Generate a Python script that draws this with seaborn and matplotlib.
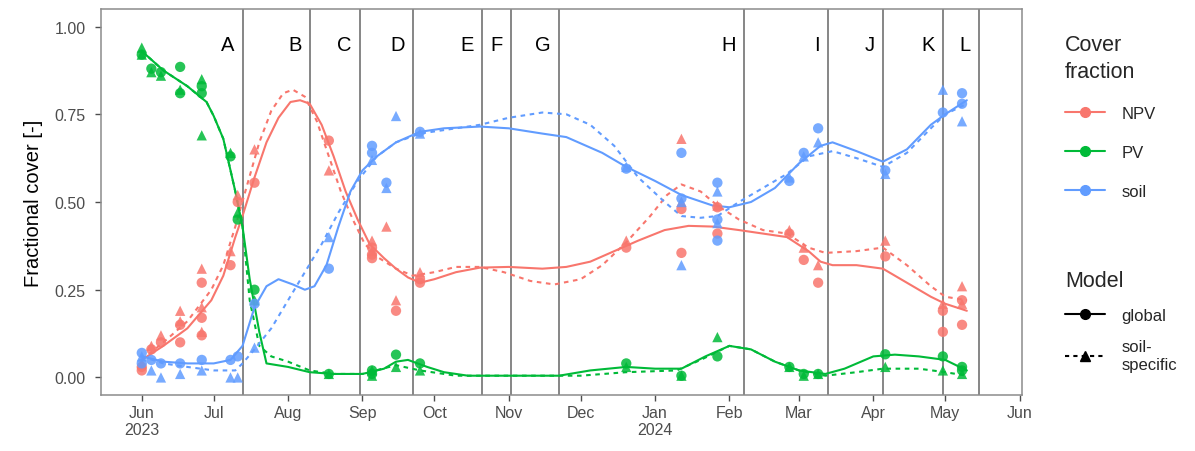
import numpy as np
import pandas as pd
import matplotlib
matplotlib.use("Agg")
import matplotlib.pyplot as plt
from matplotlib.lines import Line2D
import seaborn as sns

# ---------------- data ----------------
classes = ["NPV", "PV", "soil"]
models = ["global", "soil-specific"]
colors = {"NPV": "#F8766D", "PV": "#00BA38", "soil": "#619CFF"}

# observations (date, value) per class and model
npv_glob_dates = ["2023-06-01", "2023-06-01", "2023-06-05", "2023-06-09", "2023-06-17", "2023-06-17",
                  "2023-06-26", "2023-06-26", "2023-06-26", "2023-07-08", "2023-07-11", "2023-07-18",
                  "2023-08-18", "2023-09-05", "2023-09-05", "2023-09-05", "2023-09-15", "2023-09-25",
                  "2023-09-25", "2023-12-20", "2024-01-12", "2024-01-12", "2024-01-27", "2024-01-27",
                  "2024-02-26", "2024-03-03", "2024-03-09", "2024-04-06", "2024-04-30", "2024-04-30",
                  "2024-05-08", "2024-05-08"]
npv_glob_vals = [0.02, 0.03, 0.08, 0.10, 0.10, 0.15, 0.12, 0.27, 0.17, 0.32, 0.50, 0.555,
                 0.675, 0.35, 0.37, 0.34, 0.19, 0.27, 0.28, 0.37, 0.48, 0.355, 0.41, 0.485,
                 0.41, 0.335, 0.27, 0.345, 0.19, 0.13, 0.15, 0.22]
npv_soil_dates = ["2023-06-01", "2023-06-05", "2023-06-09", "2023-06-17", "2023-06-17", "2023-06-26",
                  "2023-06-26", "2023-06-26", "2023-07-08", "2023-07-11", "2023-07-18", "2023-08-18",
                  "2023-09-05", "2023-09-05", "2023-09-11", "2023-09-15", "2023-09-25", "2023-12-20",
                  "2024-01-12", "2024-01-12", "2024-01-27", "2024-02-26", "2024-03-03", "2024-03-09",
                  "2024-04-06", "2024-04-30", "2024-05-08", "2024-05-08"]
npv_soil_vals = [0.04, 0.09, 0.12, 0.19, 0.16, 0.31, 0.20, 0.13, 0.36, 0.52, 0.65, 0.59,
                 0.36, 0.39, 0.43, 0.22, 0.30, 0.39, 0.68, 0.50, 0.49, 0.42, 0.37, 0.32,
                 0.39, 0.21, 0.26, 0.21]

pv_glob_dates = ["2023-06-01", "2023-06-05", "2023-06-09", "2023-06-17", "2023-06-17", "2023-06-26",
                 "2023-06-26", "2023-07-08", "2023-07-11", "2023-07-18", "2023-08-18", "2023-09-05",
                 "2023-09-05", "2023-09-15", "2023-09-25", "2023-12-20", "2024-01-12", "2024-01-27",
                 "2024-02-26", "2024-03-03", "2024-03-09", "2024-04-06", "2024-04-30", "2024-05-08",
                 "2024-05-08"]
pv_glob_vals = [0.92, 0.88, 0.87, 0.885, 0.81, 0.81, 0.83, 0.63, 0.45, 0.25, 0.01, 0.01,
                0.02, 0.065, 0.04, 0.04, 0.005, 0.06, 0.03, 0.01, 0.01, 0.066, 0.06, 0.02, 0.03]
pv_soil_dates = ["2023-06-01", "2023-06-01", "2023-06-05", "2023-06-09", "2023-06-17", "2023-06-26",
                 "2023-06-26", "2023-07-08", "2023-07-11", "2023-07-18", "2023-08-18", "2023-09-05",
                 "2023-09-05", "2023-09-15", "2023-09-25", "2023-12-20", "2024-01-12", "2024-01-27",
                 "2024-02-26", "2024-03-03", "2024-03-09", "2024-04-06", "2024-04-30", "2024-05-08"]
pv_soil_vals = [0.94, 0.92, 0.87, 0.86, 0.82, 0.85, 0.69, 0.64, 0.47, 0.22, 0.01, 0.005,
                0.02, 0.03, 0.02, 0.03, 0.005, 0.115, 0.03, 0.005, 0.01, 0.03, 0.02, 0.01]

soil_glob_dates = ["2023-06-01", "2023-06-01", "2023-06-05", "2023-06-09", "2023-06-17", "2023-06-26",
                   "2023-07-08", "2023-07-11", "2023-07-18", "2023-08-18", "2023-09-05", "2023-09-05",
                   "2023-09-11", "2023-09-25", "2023-12-20", "2024-01-12", "2024-01-12", "2024-01-27",
                   "2024-01-27", "2024-01-27", "2024-02-26", "2024-03-03", "2024-03-09", "2024-04-06",
                   "2024-04-30", "2024-05-08", "2024-05-08"]
soil_glob_vals = [0.07, 0.04, 0.05, 0.04, 0.04, 0.05, 0.05, 0.06, 0.21, 0.31, 0.64, 0.66,
                  0.555, 0.70, 0.595, 0.64, 0.51, 0.555, 0.45, 0.39, 0.56, 0.64, 0.71, 0.59,
                  0.755, 0.81, 0.78]
soil_soil_dates = ["2023-06-01", "2023-06-05", "2023-06-09", "2023-06-17", "2023-06-26", "2023-07-08",
                   "2023-07-11", "2023-07-18", "2023-08-18", "2023-09-05", "2023-09-11", "2023-09-15",
                   "2023-09-25", "2023-12-20", "2024-01-12", "2024-01-12", "2024-01-27", "2024-01-27",
                   "2024-02-26", "2024-03-03", "2024-03-09", "2024-04-06", "2024-04-30", "2024-05-08"]
soil_soil_vals = [0.06, 0.02, 0.0, 0.01, 0.02, 0.0, 0.0, 0.085, 0.40, 0.62, 0.54, 0.745,
                  0.695, 0.60, 0.50, 0.32, 0.53, 0.44, 0.57, 0.63, 0.67, 0.58, 0.82, 0.73]

# fitted smooth curves (date, value)
npv_glob_fit_dates = ["2023-06-01", "2023-06-10", "2023-06-20", "2023-06-30", "2023-07-05", "2023-07-10",
                      "2023-07-13", "2023-07-18", "2023-07-23", "2023-07-28", "2023-08-02", "2023-08-06",
                      "2023-08-10", "2023-08-15", "2023-08-20", "2023-08-25", "2023-08-30", "2023-09-04",
                      "2023-09-10", "2023-09-15", "2023-09-20", "2023-09-25", "2023-10-01", "2023-10-10",
                      "2023-10-20", "2023-11-01", "2023-11-15", "2023-11-25", "2023-12-05", "2023-12-15",
                      "2023-12-25", "2024-01-05", "2024-01-15", "2024-01-25", "2024-02-05", "2024-02-15",
                      "2024-02-25", "2024-03-05", "2024-03-10", "2024-03-15", "2024-03-25", "2024-04-05",
                      "2024-04-15", "2024-04-25", "2024-05-01", "2024-05-10"]
npv_glob_fit = [0.05, 0.09, 0.14, 0.22, 0.29, 0.40, 0.46, 0.57, 0.67, 0.74, 0.785, 0.79,
                0.78, 0.72, 0.63, 0.53, 0.45, 0.38, 0.34, 0.31, 0.285, 0.27, 0.28, 0.30,
                0.313, 0.315, 0.31, 0.315, 0.33, 0.36, 0.39, 0.42, 0.432, 0.43, 0.42, 0.41,
                0.40, 0.36, 0.33, 0.32, 0.32, 0.31, 0.27, 0.23, 0.21, 0.19]
npv_soil_fit_dates = ["2023-06-01", "2023-06-10", "2023-06-20", "2023-06-30", "2023-07-05", "2023-07-10",
                      "2023-07-15", "2023-07-20", "2023-07-25", "2023-07-30", "2023-08-03", "2023-08-08",
                      "2023-08-13", "2023-08-18", "2023-08-23", "2023-08-28", "2023-09-02", "2023-09-08",
                      "2023-09-15", "2023-09-22", "2023-10-01", "2023-10-10", "2023-10-20", "2023-10-30",
                      "2023-11-10", "2023-11-20", "2023-12-01", "2023-12-10", "2023-12-20", "2023-12-30",
                      "2024-01-06", "2024-01-12", "2024-01-20", "2024-01-27", "2024-02-05", "2024-02-15",
                      "2024-02-25", "2024-03-05", "2024-03-12", "2024-03-25", "2024-04-05", "2024-04-15",
                      "2024-04-25", "2024-05-01", "2024-05-10"]
npv_soil_fit = [0.05, 0.10, 0.16, 0.25, 0.32, 0.43, 0.55, 0.67, 0.76, 0.81, 0.82, 0.80,
                0.73, 0.63, 0.53, 0.45, 0.38, 0.34, 0.31, 0.29, 0.30, 0.315, 0.315, 0.30,
                0.275, 0.265, 0.28, 0.32, 0.385, 0.46, 0.52, 0.55, 0.53, 0.49, 0.45, 0.42,
                0.41, 0.37, 0.355, 0.36, 0.37, 0.32, 0.26, 0.23, 0.22]

pv_glob_fit_dates = ["2023-06-01", "2023-06-10", "2023-06-20", "2023-06-28", "2023-07-01", "2023-07-05",
                     "2023-07-10", "2023-07-13", "2023-07-16", "2023-07-20", "2023-07-23", "2023-08-01",
                     "2023-08-10", "2023-08-20", "2023-09-01", "2023-09-10", "2023-09-15", "2023-09-20",
                     "2023-09-28", "2023-10-05", "2023-10-15", "2023-11-01", "2023-11-22", "2023-12-05",
                     "2023-12-20", "2024-01-01", "2024-01-12", "2024-01-22", "2024-02-01", "2024-02-10",
                     "2024-02-20", "2024-03-01", "2024-03-12", "2024-03-20", "2024-04-01", "2024-04-10",
                     "2024-04-20", "2024-05-01", "2024-05-10"]
pv_glob_fit = [0.93, 0.875, 0.83, 0.785, 0.745, 0.68, 0.53, 0.43, 0.28, 0.13, 0.04, 0.03,
               0.015, 0.01, 0.01, 0.025, 0.045, 0.05, 0.03, 0.015, 0.005, 0.005, 0.005, 0.02,
               0.03, 0.025, 0.025, 0.06, 0.09, 0.08, 0.045, 0.02, 0.01, 0.025, 0.06, 0.065,
               0.06, 0.05, 0.02]
pv_soil_fit_dates = ["2023-06-01", "2023-06-10", "2023-06-20", "2023-06-28", "2023-07-01", "2023-07-05",
                     "2023-07-10", "2023-07-13", "2023-07-16", "2023-07-20", "2023-07-25", "2023-08-01",
                     "2023-08-10", "2023-08-20", "2023-09-01", "2023-09-15", "2023-09-25", "2023-10-10",
                     "2023-12-01", "2023-12-20", "2024-01-10", "2024-01-20", "2024-02-01", "2024-02-10",
                     "2024-02-20", "2024-03-01", "2024-03-12", "2024-03-25", "2024-04-05", "2024-04-20",
                     "2024-05-01", "2024-05-10"]
pv_soil_fit = [0.93, 0.875, 0.83, 0.785, 0.745, 0.68, 0.53, 0.43, 0.22, 0.09, 0.06, 0.045,
               0.02, 0.01, 0.01, 0.035, 0.02, 0.005, 0.005, 0.015, 0.02, 0.05, 0.09, 0.08,
               0.045, 0.02, 0.005, 0.015, 0.025, 0.025, 0.015, 0.005]

soil_glob_fit_dates = ["2023-06-01", "2023-06-10", "2023-06-20", "2023-07-01", "2023-07-08", "2023-07-13",
                       "2023-07-18", "2023-07-23", "2023-07-28", "2023-08-03", "2023-08-08", "2023-08-12",
                       "2023-08-17", "2023-08-22", "2023-08-27", "2023-09-01", "2023-09-07", "2023-09-15",
                       "2023-09-25", "2023-10-05", "2023-10-20", "2023-11-01", "2023-11-15", "2023-11-25",
                       "2023-12-10", "2023-12-20", "2024-01-01", "2024-01-12", "2024-01-25", "2024-02-01",
                       "2024-02-10", "2024-02-20", "2024-03-01", "2024-03-10", "2024-03-15", "2024-03-25",
                       "2024-04-05", "2024-04-15", "2024-04-25", "2024-05-01", "2024-05-10"]
soil_glob_fit = [0.06, 0.045, 0.04, 0.04, 0.05, 0.09, 0.20, 0.26, 0.28, 0.265, 0.25, 0.26,
                 0.32, 0.43, 0.53, 0.59, 0.63, 0.67, 0.70, 0.71, 0.715, 0.71, 0.695, 0.685,
                 0.64, 0.60, 0.56, 0.52, 0.49, 0.485, 0.50, 0.54, 0.61, 0.66, 0.67, 0.645,
                 0.615, 0.65, 0.72, 0.75, 0.79]
soil_soil_fit_dates = ["2023-06-01", "2023-06-10", "2023-06-20", "2023-07-01", "2023-07-10", "2023-07-13",
                       "2023-07-18", "2023-07-25", "2023-08-01", "2023-08-08", "2023-08-15", "2023-08-22",
                       "2023-08-30", "2023-09-07", "2023-09-15", "2023-09-25", "2023-10-10", "2023-10-20",
                       "2023-11-01", "2023-11-15", "2023-11-25", "2023-12-05", "2023-12-15", "2023-12-25",
                       "2024-01-05", "2024-01-12", "2024-01-20", "2024-01-27", "2024-02-05", "2024-02-15",
                       "2024-02-25", "2024-03-05", "2024-03-15", "2024-03-25", "2024-04-05", "2024-04-15",
                       "2024-04-25", "2024-05-01", "2024-05-10"]
soil_soil_fit = [0.06, 0.04, 0.03, 0.02, 0.02, 0.04, 0.08, 0.14, 0.22, 0.30, 0.38, 0.47,
                 0.56, 0.63, 0.67, 0.695, 0.71, 0.72, 0.74, 0.755, 0.75, 0.72, 0.66, 0.57,
                 0.50, 0.46, 0.455, 0.46, 0.50, 0.54, 0.58, 0.63, 0.645, 0.625, 0.60, 0.64,
                 0.71, 0.75, 0.78]

# period boundaries and labels
period_ends = ["2023-07-13", "2023-08-10", "2023-08-31", "2023-09-22", "2023-10-21", "2023-11-02",
               "2023-11-22", "2024-02-07", "2024-03-13", "2024-04-05", "2024-04-30", "2024-05-15"]
period_labels = ["A", "B", "C", "D", "E", "F", "G", "H", "I", "J", "K", "L"]

month_ticks = ["2023-06-01", "2023-07-01", "2023-08-01", "2023-09-01", "2023-10-01", "2023-11-01",
               "2023-12-01", "2024-01-01", "2024-02-01", "2024-03-01", "2024-04-01", "2024-05-01",
               "2024-06-01"]
month_labels = ["Jun\n2023", "Jul", "Aug", "Sep", "Oct", "Nov", "Dec", "Jan\n2024", "Feb", "Mar",
                "Apr", "May", "Jun"]

# ---------------- assemble ----------------
obs_sets = {
    ("NPV", "global"): (npv_glob_dates, npv_glob_vals),
    ("NPV", "soil-specific"): (npv_soil_dates, npv_soil_vals),
    ("PV", "global"): (pv_glob_dates, pv_glob_vals),
    ("PV", "soil-specific"): (pv_soil_dates, pv_soil_vals),
    ("soil", "global"): (soil_glob_dates, soil_glob_vals),
    ("soil", "soil-specific"): (soil_soil_dates, soil_soil_vals),
}
fit_sets = {
    ("NPV", "global"): (npv_glob_fit_dates, npv_glob_fit),
    ("NPV", "soil-specific"): (npv_soil_fit_dates, npv_soil_fit),
    ("PV", "global"): (pv_glob_fit_dates, pv_glob_fit),
    ("PV", "soil-specific"): (pv_soil_fit_dates, pv_soil_fit),
    ("soil", "global"): (soil_glob_fit_dates, soil_glob_fit),
    ("soil", "soil-specific"): (soil_soil_fit_dates, soil_soil_fit),
}
obs = pd.concat([pd.DataFrame({"date": pd.to_datetime(d), "value": v, "fraction": c, "model": m})
                 for (c, m), (d, v) in obs_sets.items()], ignore_index=True)
fit = pd.concat([pd.DataFrame({"date": pd.to_datetime(d), "value": v, "fraction": c, "model": m})
                 for (c, m), (d, v) in fit_sets.items()], ignore_index=True)

# ---------------- plot ----------------
sns.set_theme(style="white")
plt.rcParams["font.family"] = ["Liberation Sans", "DejaVu Sans"]

fig = plt.figure(figsize=(11.95, 4.52), dpi=100)
ax = fig.add_axes([101 / 1195, 1 - 396 / 452, (1022 - 101) / 1195, (396 - 10) / 452])

for pe in period_ends:
    ax.axvline(pd.Timestamp(pe), color="#666666", lw=1.1, zorder=1)

sns.lineplot(data=fit, x="date", y="value", hue="fraction", style="model",
             hue_order=classes, style_order=models, palette=colors,
             dashes={"global": "", "soil-specific": (2.2, 2.2)},
             lw=1.5, estimator=None, sort=True, legend=False, ax=ax, zorder=3)
sns.scatterplot(data=obs, x="date", y="value", hue="fraction", style="model",
                hue_order=classes, style_order=models, palette=colors,
                markers={"global": "o", "soil-specific": "^"},
                s=55, alpha=0.85, linewidth=0, legend=False, ax=ax, zorder=4)

for pe, lab in zip(period_ends, period_labels):
    ax.text(pd.Timestamp(pe) - pd.Timedelta(days=3.5), 0.95, lab, ha="right", va="center",
            fontsize=14.5, color="black")

ax.set_xlim(pd.Timestamp("2023-05-15"), pd.Timestamp("2024-06-02"))
ax.set_ylim(-0.05, 1.05)
ax.set_xticks(pd.to_datetime(month_ticks))
ax.set_xticklabels(month_labels, ha="center")
ax.set_yticks([0, 0.25, 0.5, 0.75, 1.0])
ax.set_yticklabels(["0.00", "0.25", "0.50", "0.75", "1.00"])
ax.tick_params(axis="both", colors="#4d4d4d", labelsize=11.5, length=4, width=1, direction="out",
               bottom=True, left=True)
ax.tick_params(axis="x", pad=3)
ax.tick_params(axis="y", pad=7)
ax.set_xlabel("")
ax.set_ylabel("Fractional cover [-]", fontsize=14.5, color="black", labelpad=8)
for sp in ax.spines.values():
    sp.set_color("#8c8c8c")
    sp.set_linewidth(1.1)
ax.grid(False)

# legends
h1 = [Line2D([0], [0], color=colors[c], lw=1.5, marker="o", markersize=7, label=c) for c in classes]
leg1 = fig.legend(handles=h1, title="Cover\nfraction", loc="upper left",
                  bbox_to_anchor=(1050 / 1195, 1 - 20 / 452), frameon=False, fontsize=12,
                  title_fontsize=15.5, handlelength=2.4, labelspacing=1.45, handletextpad=1.0)
leg1._legend_box.align = "left"
leg1.get_title().set_linespacing(1.35)
h2 = [Line2D([0], [0], color="black", lw=1.5, marker="o", markersize=7, label="global"),
      Line2D([0], [0], color="black", lw=1.5, ls=(0, (2, 2)), marker="^", markersize=7,
             label="soil-\nspecific")]
leg2 = fig.legend(handles=h2, title="Model", loc="upper left",
                  bbox_to_anchor=(1050 / 1195, 1 - 256 / 452), frameon=False, fontsize=12,
                  title_fontsize=15.5, handlelength=2.4, labelspacing=1.0, handletextpad=1.0)
leg2._legend_box.align = "left"

fig.savefig("out.png", dpi=100, facecolor="white")
